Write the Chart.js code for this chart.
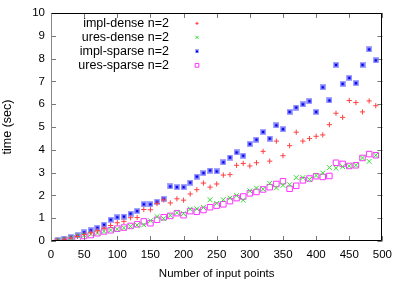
<!DOCTYPE html>
<html>
<head>
<meta charset="utf-8">
<script src="https://cdn.jsdelivr.net/npm/chart.js@4"></script>
<style>
  html, body { margin: 0; padding: 0; background: #fff; }
  #wrap { width: 399px; height: 281px; }
</style>
</head>
<body>
<div id="wrap"><canvas id="timeChart" width="399" height="281"></canvas></div>
<script>
// input sizes (x axis)
const points = [10, 20, 30, 40, 50, 60, 70, 80, 90, 100, 110, 120, 130, 140, 150, 160, 170, 180, 190, 200,
  210, 220, 230, 240, 250, 260, 270, 280, 290, 300, 310, 320, 330, 340, 350, 360, 370, 380, 390, 400,
  410, 420, 430, 440, 450, 460, 470, 480, 490];

const implDense = [0.03, 0.08, 0.13, 0.2, 0.28, 0.36, 0.45, 0.56, 0.68, 0.8, 0.86, 1.02, 1.03, 1.38, 1.37, 1.64, 1.8, 1.67, 1.85, 1.79,
  2.06, 2.25, 2.54, 2.36, 2.5, 2.89, 2.91, 3.32, 3.4, 3.29, 3.43, 3.93, 3.5, 4.38, 3.74, 4.18, 4.77, 4.38, 4.49, 4.59,
  4.65, 5.1, 5.6, 5.42, 6.16, 6.07, 5.66, 6.14, 5.93];

const uresDense = [0.02, 0.07, 0.14, 0.23, 0.25, 0.3, 0.35, 0.42, 0.48, 0.52, 0.58, 0.64, 0.7, 0.71, 0.89, 1.07, 0.98, 1.12, 1.24, 1.2,
  1.4, 1.41, 1.47, 1.81, 1.65, 1.81, 1.88, 1.99, 1.79, 2.2, 2.32, 2.27, 2.53, 2.33, 2.44, 2.47, 2.78, 2.78, 2.7, 2.87,
  2.98, 3.22, 3.19, 3.26, 3.29, 3.32, 3.64, 3.49, 3.76];

const implSparse = [0.04, 0.1, 0.17, 0.25, 0.38, 0.47, 0.58, 0.71, 0.93, 1.04, 1.07, 1.2, 1.31, 1.61, 1.61, 1.72, 1.85, 2.39, 2.36, 2.36,
  2.56, 2.82, 2.98, 3.09, 3.05, 3.45, 3.66, 3.88, 3.74, 4.25, 4.44, 4.78, 4.49, 5.07, 4.9, 5.66, 5.85, 5.99, 6.13, 5.66,
  6.74, 6.16, 7.72, 6.89, 7.15, 6.92, 7.72, 8.4, 7.92];

const uresSparse = [0.0, 0.06, 0.1, 0.14, 0.22, 0.26, 0.34, 0.42, 0.47, 0.54, 0.59, 0.66, 0.73, 0.86, 0.78, 0.93, 1.04, 1.1, 1.22, 1.13,
  1.31, 1.28, 1.36, 1.48, 1.55, 1.61, 1.75, 1.88, 1.95, 2.09, 2.15, 2.26, 2.36, 2.5, 2.62, 2.29, 2.42, 2.66, 2.74, 2.84,
  2.81, 2.85, 3.43, 3.38, 3.29, 3.32, 3.64, 3.81, 3.76];

const labels = ['impl-dense n=2', 'ures-dense n=2', 'impl-sparse n=2', 'ures-sparse n=2'];

const FONT = 'Liberation Sans, Arial, sans-serif';

function toXY(values) {
  return values.map((v, i) => ({x: points[i], y: v}));
}

// gnuplot's small '*' ends up as a blurry square with a dark middle
function starBlob(n) {
  const c = document.createElement('canvas');
  c.width = n; c.height = n;
  const g = c.getContext('2d');
  g.fillStyle = '#a8a8ff';
  g.fillRect(0, 0, n, n);
  g.fillStyle = '#6a6aff';
  g.fillRect(1, 1, n - 2, n - 2);
  g.fillStyle = '#0000e0';
  g.fillRect(n / 2 - 1, n / 2 - 1, 2, 2);
  return c;
}
const blob = starBlob(6);
const smallBlob = starBlob(4);

const series = [
  {label: labels[0], data: toXY(implDense), pointStyle: 'cross', pointRadius: 2.6, borderColor: '#ff4040', backgroundColor: '#ff4040'},
  {label: labels[1], data: toXY(uresDense), pointStyle: 'crossRot', pointRadius: 3.4, borderColor: '#30dd30', backgroundColor: '#30dd30'},
  {label: labels[2], data: toXY(implSparse), pointStyle: blob, pointRadius: 3, borderColor: '#2a2aff', backgroundColor: '#2a2aff'},
  {label: labels[3], data: toXY(uresSparse), pointStyle: 'rect', pointRadius: 3.9, borderColor: '#ff33ff', backgroundColor: 'rgba(0,0,0,0)'}
].map((d) => Object.assign(d, {showLine: false, borderWidth: 1, pointHoverRadius: d.pointRadius}));

// the key samples are drawn smaller than the plotted points
const keySamples = [
  {pointStyle: 'cross', radius: 1.6},
  {pointStyle: 'crossRot', radius: 2.2},
  {pointStyle: smallBlob, radius: 2},
  {pointStyle: 'rect', radius: 2.6}
];

// gnuplot-like frame with inward ticks on all four sides
const frame = {
  id: 'frame',
  afterDraw(chart) {
    const {ctx, chartArea: a, scales} = chart;
    ctx.save();
    ctx.lineWidth = 1;
    ctx.strokeStyle = '#777';
    const len = 5;
    scales.y.ticks.forEach((t) => {
      const py = Math.round(scales.y.getPixelForValue(t.value)) + 0.5;
      ctx.beginPath();
      ctx.moveTo(a.left, py); ctx.lineTo(a.left + len, py);
      ctx.moveTo(a.right, py); ctx.lineTo(a.right - len, py);
      ctx.stroke();
    });
    scales.x.ticks.forEach((t) => {
      const px = Math.round(scales.x.getPixelForValue(t.value)) + 0.5;
      ctx.beginPath();
      ctx.moveTo(px, a.bottom); ctx.lineTo(px, a.bottom - len);
      ctx.moveTo(px, a.top); ctx.lineTo(px, a.top + len);
      ctx.stroke();
    });
    const l = Math.round(a.left) + 0.5, r = Math.round(a.right) - 0.5;
    const t = Math.round(a.top) + 0.5, b = Math.round(a.bottom) - 0.5;
    ctx.strokeStyle = '#000';
    ctx.beginPath();
    ctx.moveTo(l, b); ctx.lineTo(r, b); ctx.lineTo(r, t); ctx.lineTo(l, t);
    ctx.stroke();
    ctx.strokeStyle = '#888';
    ctx.beginPath();
    ctx.moveTo(l, t); ctx.lineTo(l, b);
    ctx.stroke();

    // key, text right aligned with the sample on its right
    ctx.font = '12.5px ' + FONT;
    ctx.textAlign = 'right';
    ctx.textBaseline = 'middle';
    chart.data.datasets.forEach((d, i) => {
      const y = a.top + 10.5 + i * 14;
      ctx.fillStyle = '#000';
      ctx.fillText(d.label, a.left + 118, y);
      ctx.strokeStyle = d.borderColor;
      ctx.fillStyle = d.backgroundColor;
      ctx.lineWidth = 1;
      const k = keySamples[i];
      Chart.helpers.drawPoint(ctx, {pointStyle: k.pointStyle, radius: k.radius, rotation: 0, borderWidth: 1}, a.left + 146, y);
    });
    ctx.restore();
  }
};

new Chart(document.getElementById('timeChart').getContext('2d'), {
  type: 'scatter',
  data: {datasets: series},
  plugins: [frame],
  options: {
    responsive: false,
    animation: false,
    maintainAspectRatio: false,
    layout: {padding: {top: 4, right: 13, left: 0, bottom: 0}},
    plugins: {legend: {display: false}, tooltip: {enabled: false}},
    scales: {
      x: {
        type: 'linear', min: 0, max: 500,
        grid: {display: false, drawTicks: false},
        border: {display: false},
        ticks: {stepSize: 50, color: '#000', font: {family: FONT, size: 11.5}, padding: 7, maxRotation: 0},
        title: {display: true, text: 'Number of input points', color: '#000', font: {family: FONT, size: 11.5}, padding: {top: 2, bottom: 0}},
        afterFit: (s) => { s.height = 40; }
      },
      y: {
        type: 'linear', min: 0, max: 10,
        grid: {display: false, drawTicks: false},
        border: {display: false},
        ticks: {stepSize: 1, color: '#000', font: {family: FONT, size: 11.5}, padding: 6},
        title: {display: true, text: 'time (sec)', color: '#000', font: {family: FONT, size: 12.5}, padding: {top: 0, bottom: 0}},
        afterFit: (s) => { s.width = 51; }
      }
    }
  }
});
</script>
</body>
</html>
